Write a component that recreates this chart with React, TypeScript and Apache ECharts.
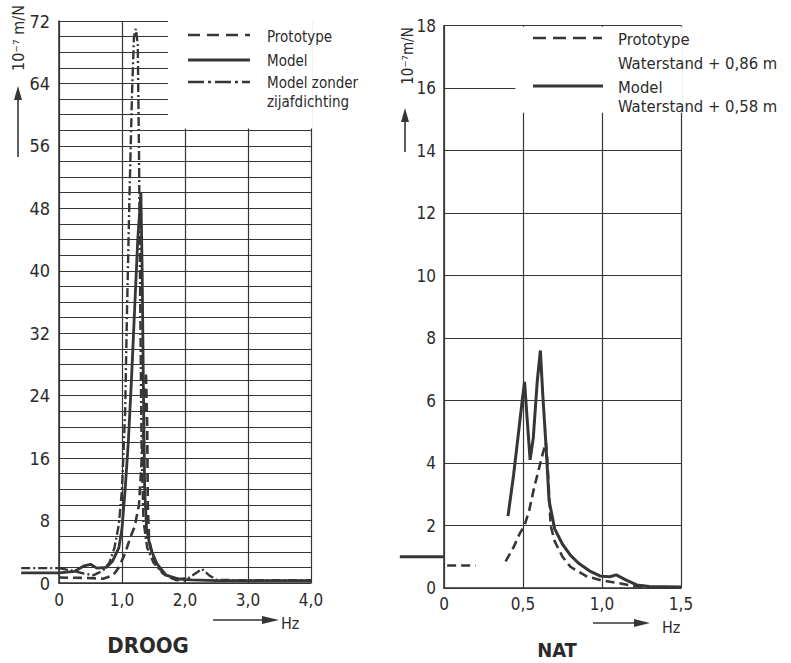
import React, { useEffect, useRef } from "react";
import * as echarts from "echarts";

// ---------- DROOG (left) ----------
const droogYMax = 72;
const droogPrototype: [number, number][] = [
  [0, 0.7], [0.4, 0.65], [0.7, 0.55], [0.86, 1.0], [0.95, 2.0], [1.05, 3.8], [1.13, 5.8],
  [1.2, 7.2], [1.27, 10], [1.33, 18], [1.38, 27], [1.4, 20], [1.41, 10], [1.43, 5.5],
  [1.5, 3.2], [1.6, 1.8], [1.7, 0.9], [1.85, 0.4], [2.0, 0.3],
];
const droogModel: [number, number][] = [
  [0, 1.3], [0.25, 1.5], [0.4, 2.2], [0.5, 2.4], [0.6, 1.9], [0.75, 2.0],
  [0.85, 2.8], [0.95, 4.5], [1.0, 7], [1.05, 12], [1.1, 18], [1.15, 26], [1.2, 35],
  [1.25, 44], [1.3, 50], [1.32, 40], [1.34, 25], [1.36, 12], [1.39, 7], [1.45, 4.5],
  [1.55, 2.5], [1.7, 1.0], [1.9, 0.5], [2.1, 0.4], [2.5, 0.3], [3, 0.3], [4, 0.3],
];
const droogModelStub: [number, number][] = [[-0.6, 1.3], [0, 1.3]];
const droogZonder: [number, number][] = [
  [0, 1.9], [0.2, 1.6], [0.4, 1.2], [0.55, 1.0], [0.7, 1.6], [0.8, 2.6],
  [0.88, 4.5], [0.95, 7.5], [1.0, 12], [1.05, 22], [1.08, 35], [1.12, 50], [1.16, 63],
  [1.19, 70], [1.22, 71], [1.25, 69], [1.27, 55], [1.29, 35], [1.31, 18], [1.34, 8],
  [1.4, 4.5], [1.5, 2.6], [1.65, 1.2], [1.85, 0.5], [2.05, 0.6], [2.2, 1.4], [2.27, 1.8],
  [2.38, 1.0], [2.5, 0.4], [3.0, 0.35], [4.0, 0.35],
];
const droogZonderStub: [number, number][] = [[-0.6, 1.9], [0, 1.9]];

// ---------- NAT (right) ----------
const natYMax = 18;
const natPrototype: any[] = [
  [0.02, 0.72], [0.2, 0.72], [0.3, "-"],
  [0.39, 0.85], [0.44, 1.3], [0.48, 1.75], [0.51, 2.0], [0.54, 2.5], [0.57, 3.2],
  [0.6, 3.8], [0.625, 4.3], [0.645, 4.65], [0.655, 4.0], [0.665, 3.0], [0.675, 2.0],
  [0.7, 1.5], [0.75, 1.0], [0.8, 0.68], [0.9, 0.38], [1.0, 0.24], [1.1, 0.16],
  [1.2, 0.06], [1.3, 0.02],
];
const natModel: [number, number][] = [
  [0.405, 2.3], [0.44, 3.6], [0.47, 4.9], [0.495, 6.0], [0.51, 6.6], [0.525, 5.5],
  [0.545, 4.1], [0.565, 4.8], [0.59, 6.6], [0.61, 7.6], [0.625, 6.2], [0.645, 4.6],
  [0.665, 2.8], [0.7, 1.9], [0.75, 1.4], [0.8, 1.05], [0.85, 0.8], [0.92, 0.55],
  [0.99, 0.38], [1.05, 0.36], [1.09, 0.42], [1.15, 0.26], [1.22, 0.1], [1.3, 0.05],
  [1.5, 0.03],
];
const natModelStub: [number, number][] = [[-0.28, 1.0], [0, 1.0]];

const INK = "#363636";
const TXT = "#2b2b2b";
const FONT = '"DejaVu Sans Condensed", "Liberation Sans Narrow", "DejaVu Sans", sans-serif';

const commaFmt = (v: number) => (v === 0 ? "0" : v.toFixed(1).replace(".", ","));

export default function App() {
  const ref = useRef<HTMLDivElement>(null);
  useEffect(() => {
    if (!ref.current) return;
    const chart = echarts.init(ref.current, null, { renderer: "svg" });
    const axisLine = { show: true, lineStyle: { color: INK, width: 1.6 } };
    const splitLine = { show: true, lineStyle: { color: INK, width: 1.2, type: "solid" as const } };
    const blank = (a: number[], b: number[]) => ({
      silent: true,
      label: { show: false },
      itemStyle: { color: "#ffffff", borderColor: "#ffffff", borderWidth: 2.5, opacity: 1 },
      data: [[{ coord: a }, { coord: b }]],
    });
    const text = (t: string, x: number, y: number, size: number, extra: any = {}) => ({
      type: "text",
      x,
      y,
      z: 100,
      style: {
        text: t,
        fill: TXT,
        font: `${extra.weight || "normal"} ${size}px ${FONT}`,
        textAlign: extra.align || "left",
        textVerticalAlign: "middle",
      },
      rotation: extra.rotation || 0,
    });
    const seg = (x1: number, y1: number, x2: number, y2: number, w: number, dash?: number[]) => ({
      type: "line",
      z: 100,
      shape: { x1, y1, x2, y2 },
      style: { stroke: INK, lineWidth: w, lineDash: dash || null },
    });
    const tip = (pts: number[][]) => ({
      type: "polygon",
      z: 100,
      shape: { points: pts },
      style: { fill: INK },
    });
    const solidStyle = (w: number) => ({ color: INK, width: w });
    const dashStyle = { color: INK, width: 2.6, type: [9, 5] };
    const dashDotStyle = { color: INK, width: 2.4, type: [9, 3, 2, 3] };

    chart.setOption({
      animation: false,
      backgroundColor: "#ffffff",
      textStyle: { fontFamily: FONT },
      grid: [
        { left: 59, top: 21, width: 252, height: 562 },
        { left: 444, top: 25.5, width: 237, height: 562.5 },
        // narrow strips left of the axes (f < 0), same scales
        { left: 21.2, top: 21, width: 37.8, height: 562 },
        { left: 399.8, top: 25.5, width: 44.2, height: 562.5 },
      ],
      xAxis: [
        {
          gridIndex: 0, type: "value", min: 0, max: 4, interval: 1,
          axisLine, axisTick: { show: false }, splitLine,
          axisLabel: { color: TXT, fontSize: 17, margin: 8, formatter: commaFmt },
        },
        {
          gridIndex: 1, type: "value", min: 0, max: 1.5, interval: 0.5,
          axisLine, axisTick: { show: false }, splitLine,
          axisLabel: { color: TXT, fontSize: 17, margin: 7, formatter: commaFmt },
        },
        { gridIndex: 2, type: "value", min: -0.6, max: 0, show: false },
        { gridIndex: 3, type: "value", min: -0.28, max: 0, show: false },
      ],
      yAxis: [
        {
          gridIndex: 0, type: "value", min: 0, max: droogYMax, interval: 2,
          axisLine, axisTick: { show: false }, splitLine,
          axisLabel: {
            color: TXT, fontSize: 18, margin: 9,
            formatter: (v: number) => (v % 8 === 0 ? String(v) : ""),
          },
        },
        {
          gridIndex: 1, type: "value", min: 0, max: natYMax, interval: 2,
          axisLine, axisTick: { show: false }, splitLine,
          axisLabel: { color: TXT, fontSize: 17, margin: 8 },
        },
        { gridIndex: 2, type: "value", min: 0, max: droogYMax, show: false },
        { gridIndex: 3, type: "value", min: 0, max: natYMax, show: false },
      ],
      series: [
        {
          name: "Prototype", type: "line", xAxisIndex: 0, yAxisIndex: 0, data: droogPrototype,
          showSymbol: false, z: 3, lineStyle: dashStyle,
          markArea: blank([1.75, 58.4], [4, 72]),
        },
        {
          name: "Model", type: "line", xAxisIndex: 0, yAxisIndex: 0, data: droogModel,
          showSymbol: false, z: 4, lineStyle: solidStyle(2.8),
        },
        {
          name: "Model zonder zijafdichting", type: "line", xAxisIndex: 0, yAxisIndex: 0, data: droogZonder,
          showSymbol: false, z: 4, lineStyle: dashDotStyle,
        },
        {
          name: "Model (f<0)", type: "line", xAxisIndex: 2, yAxisIndex: 2, data: droogModelStub,
          showSymbol: false, z: 4, lineStyle: solidStyle(2.8),
        },
        {
          name: "Model zonder zijafdichting (f<0)", type: "line", xAxisIndex: 2, yAxisIndex: 2, data: droogZonderStub,
          showSymbol: false, z: 4, lineStyle: dashDotStyle,
        },
        {
          name: "Prototype Waterstand + 0,86 m", type: "line", xAxisIndex: 1, yAxisIndex: 1, data: natPrototype,
          showSymbol: false, connectNulls: false, z: 3, lineStyle: dashStyle,
          markArea: blank([0.46, 15.25], [1.5, 17.92]),
        },
        {
          name: "Model Waterstand + 0,58 m", type: "line", xAxisIndex: 1, yAxisIndex: 1, data: natModel,
          showSymbol: false, z: 4, lineStyle: solidStyle(3),
        },
        {
          name: "Model Waterstand + 0,58 m (f<0)", type: "line", xAxisIndex: 3, yAxisIndex: 3, data: natModelStub,
          showSymbol: false, z: 4, lineStyle: solidStyle(3),
        },
      ],
      graphic: [
        // left legend
        seg(188, 35, 250, 35, 2.6, [12, 7]),
        text("Prototype", 267, 37, 15),
        seg(188, 60, 250, 60, 2.8),
        text("Model", 267, 61, 15),
        seg(188, 82, 250, 82, 2.6, [16, 4, 3, 4]),
        text("Model zonder", 267, 83, 15),
        text("zijafdichting", 267, 102, 15),
        // right legend
        seg(533, 38, 602, 38, 2.6, [13, 7]),
        text("Prototype", 618, 39, 16.5),
        text("Waterstand + 0,86 m", 618, 63, 16.5),
        seg(533, 86, 603, 86, 3),
        text("Model", 618, 87, 16.5),
        text("Waterstand + 0,58 m", 618, 106, 16.5),
        // left y name + arrow
        text("10⁻⁷ m/N", 18, 38, 16, { align: "center", rotation: Math.PI / 2 }),
        seg(18, 157, 18, 98, 1.6),
        tip([[14, 100], [22, 100], [18, 86]]),
        // right y name + arrow
        text("10⁻⁷m/N", 408, 56, 15, { align: "center", rotation: Math.PI / 2 }),
        seg(405, 152, 405, 120, 1.6),
        tip([[401, 122], [409, 122], [405, 108]]),
        // Hz arrows
        seg(213, 620, 268, 620, 1.6),
        tip([[262, 616], [262, 624], [279, 620]]),
        text("Hz", 281, 623, 16),
        seg(593, 623, 640, 623, 1.6),
        tip([[634, 619], [634, 627], [650, 623]]),
        text("Hz", 662, 627, 16),
        // titles
        text("DROOG", 148, 645, 22, { align: "center", weight: "bold" }),
        text("NAT", 557, 650, 20, { align: "center", weight: "bold" }),
      ],
    });
    return () => chart.dispose();
  }, []);
  return (
    <div
      ref={ref}
      style={{ position: "fixed", left: 0, top: 0, width: 791, height: 663, background: "#fff" }}
    />
  );
}
